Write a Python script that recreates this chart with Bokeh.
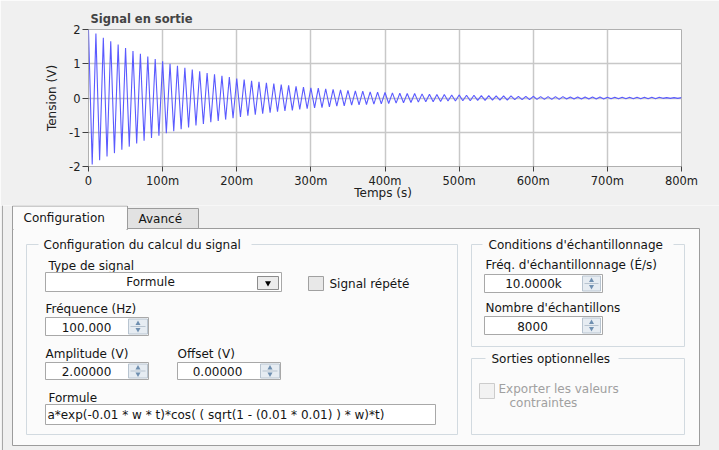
from bokeh.plotting import figure
from bokeh.layouts import column
from bokeh.models import Range1d, FixedTicker, CustomJSTickFormatter
from bokeh.core.properties import value
from bokeh.embed import file_html
from bokeh.resources import INLINE

# ---------------- data ----------------
signal_freq_hz = 100.0          # ten cycles per 100 ms, as shown in the panel
# successive positive / negative extremes of the output signal, one per half cycle (V)
extremes = [
    2.00, -1.94, 1.88, -1.82, 1.76, -1.71, 1.66, -1.61, 1.56, -1.51,
    1.46, -1.42, 1.37, -1.33, 1.29, -1.25, 1.21, -1.17, 1.14, -1.10,
    1.07, -1.03, 1.00, -0.97, 0.94, -0.91, 0.88, -0.86, 0.83, -0.80,
    0.78, -0.76, 0.73, -0.71, 0.69, -0.67, 0.65, -0.63, 0.61, -0.59,
    0.57, -0.55, 0.54, -0.52, 0.50, -0.49, 0.47, -0.46, 0.44, -0.43,
    0.42, -0.40, 0.39, -0.38, 0.37, -0.36, 0.34, -0.33, 0.32, -0.31,
    0.30, -0.29, 0.29, -0.28, 0.27, -0.26, 0.25, -0.24, 0.24, -0.23,
    0.22, -0.21, 0.21, -0.20, 0.20, -0.19, 0.18, -0.18, 0.17, -0.17,
    0.16, -0.16, 0.15, -0.15, 0.14, -0.14, 0.13, -0.13, 0.13, -0.12,
    0.12, -0.11, 0.11, -0.11, 0.10, -0.10, 0.10, -0.09, 0.09, -0.09,
    0.09, -0.08, 0.08, -0.08, 0.08, -0.07, 0.07, -0.07, 0.07, -0.06,
    0.06, -0.06, 0.06, -0.06, 0.06, -0.05, 0.05, -0.05, 0.05, -0.05,
    0.05, -0.04, 0.04, -0.04, 0.04, -0.04, 0.04, -0.04, 0.04, -0.03,
    0.03, -0.03, 0.03, -0.03, 0.03, -0.03, 0.03, -0.03, 0.03, -0.03,
    0.02, -0.02, 0.02, -0.02, 0.02, -0.02, 0.02, -0.02, 0.02, -0.02,
    0.02, -0.02, 0.02, -0.02, 0.02, -0.01, 0.01, -0.01, 0.01, -0.01,
    0.01,
]
times = [j / (2 * signal_freq_hz) for j in range(len(extremes))]

x_ticks = [0, 0.1, 0.2, 0.3, 0.4, 0.5, 0.6, 0.7, 0.8]
y_ticks = [-2, -1, 0, 1, 2]
y_labels = {-2: "-2", -1: "-1", 0: "0", 1: "1", 2: "2"}

FONT = "DejaVu Sans"
BG = "#F0F0F0"

# ---------------- chart ----------------
p1 = figure(width=719, height=205, x_range=Range1d(0, 0.8), y_range=Range1d(-2, 2),
            output_backend="svg", toolbar_location=None,
            min_border_left=88, min_border_right=38, min_border_top=29, min_border_bottom=39)
p1.frame_align = False
p1.background_fill_color = "white"
p1.border_fill_color = BG
p1.outline_line_color = "#B0B0B0"

p1.title.text = "Signal en sortie"
p1.title.text_font = FONT
p1.title.text_font_size = "11.5px"
p1.title.text_font_style = "bold"
p1.title.align = "left"
p1.title.offset = 2
p1.title.standoff = 7

p1.line(times, extremes, line_color="#5A5AFF", line_width=1.1)

p1.xaxis.ticker = FixedTicker(ticks=x_ticks)
p1.xaxis.formatter = CustomJSTickFormatter(
    code="return tick == 0 ? '0' : Math.round(tick * 1000) + 'm';")
p1.yaxis.ticker = FixedTicker(ticks=y_ticks)
p1.yaxis.major_label_overrides = y_labels
p1.xaxis.axis_label = "Temps  (s)"
p1.yaxis.axis_label = "Tension (V)"
for ax in (p1.xaxis, p1.yaxis):
    ax.axis_line_color = None
    ax.major_tick_line_color = "#404040"
    ax.major_tick_in = 0
    ax.major_tick_out = 6
    ax.minor_tick_line_color = None
    ax.major_label_text_font = FONT
    ax.major_label_text_font_size = "11.5px"
    ax.major_label_text_color = "#202020"
    ax.major_label_text_line_height = 1.0
    ax.axis_label_text_font = FONT
    ax.axis_label_text_font_size = "12px"
    ax.axis_label_text_font_style = "normal"
    ax.axis_label_text_color = "#202020"
    ax.axis_label_text_line_height = 1.0
p1.xaxis.major_tick_out = 5
p1.xaxis.major_label_standoff = 2
p1.xaxis.axis_label_standoff = -5
p1.yaxis.major_label_standoff = 2
p1.yaxis.axis_label_standoff = 7
p1.grid.grid_line_color = "#C8C8C8"
p1.grid.grid_line_width = 1.5

# ---------------- configuration panel ----------------
p2 = figure(width=719, height=245, x_range=Range1d(0, 719), y_range=Range1d(450, 205),
            output_backend="svg", toolbar_location=None, min_border=0)
p2.frame_align = False
p2.background_fill_color = BG
p2.border_fill_color = BG
p2.outline_line_color = None
p2.axis.visible = False
p2.grid.visible = False

PANEL = "#FBFBFB"

def box(l, r, t, b, fill, line, width=1):
    p2.quad(left=l, right=r, top=t, bottom=b, fill_color=fill, line_color=line, line_width=width)

def txt(x, y, s, align="left", color="#141414", size="12px"):
    p2.text(x=[x], y=[y], text=[s], text_font=value(FONT), text_font_size=size,
            text_color=color, text_align=align, text_baseline="middle")

def spinner(l, r, t, b):
    box(l, r, t, b, "#E6ECF2", "#B8C4D0")
    mid = (t + b) / 2
    p2.line([l + 2, r - 2], [mid, mid], line_color="#B8C4D0", line_width=1)
    cx = (l + r) / 2
    p2.scatter([cx], [mid - 3], marker="triangle", size=5, fill_color="#6F8FB0", line_color=None)
    p2.scatter([cx], [mid + 3], marker="inverted_triangle", size=5, fill_color="#6F8FB0", line_color=None)

def numeric(l, r, t, b, s, cx, sp):
    box(l, r, t, b, "white", "#A8A8A8")
    spinner(sp[0], sp[1], t + 1.5, b - 1.5)
    txt(cx, (t + b) / 2 + 0.5, s, align="center")

# window edge
p2.line([2, 2], [205, 450], line_color="#A8A8A8", line_width=1)

# tab panel
box(12, 699, 228, 445, PANEL, "#9C9C9C")
box(127, 198, 208, 228, "#E2E2E2", "#9C9C9C")
box(12, 127, 205.5, 229, PANEL, "#9C9C9C")
p2.line([13, 126], [228.5, 228.5], line_color=PANEL, line_width=2)
txt(23, 217, "Configuration")
txt(138, 218.5, "Avancé")

# group boxes
GB = "#D2DAE0"
box(26, 457, 244, 434, None, GB)
box(471, 684, 244, 346, None, GB)
box(471, 684, 358, 434, None, GB)
p2.quad(left=38, right=251, top=237, bottom=251, fill_color=PANEL, line_color=None)
p2.quad(left=482, right=673, top=237, bottom=251, fill_color=PANEL, line_color=None)
p2.quad(left=485, right=618, top=351, bottom=365, fill_color=PANEL, line_color=None)
txt(43, 244, "Configuration du calcul du signal")
txt(488, 244, "Conditions d'échantillonnage")
txt(491, 358, "Sorties optionnelles")

# signal type
txt(48, 265, "Type de signal")
box(45, 281, 272, 291, "white", "#A8A8A8")
txt(150, 281.5, "Formule", align="center")
box(257, 278, 276, 289, "#ECECEC", "#8C8C8C")
p2.scatter([267.5], [282.5], marker="inverted_triangle", size=6, fill_color="black", line_color=None)
box(308, 323, 276, 290, "#E8E8E8", "#A0A0A0")
txt(329, 283, "Signal répété")

# numerics
txt(45, 308, "Fréquence (Hz)")
numeric(45, 148, 317, 335, "100.000", 86, (128, 147))
txt(45, 353, "Amplitude (V)")
numeric(45, 148, 362, 379, "2.00000", 86, (128, 147))
txt(177, 353, "Offset (V)")
numeric(177, 280, 362, 379, "0.00000", 217, (260, 279))

# formula
txt(48, 397, "Formule")
box(45, 435, 404, 424, "white", "#A8A8A8")
txt(47, 414.5, "a*exp(-0.01 * w * t)*cos( ( sqrt(1 - (0.01 * 0.01) ) * w)*t)")

# sampling
txt(485, 264, "Fréq. d'échantillonnage (É/s)")
numeric(484, 602, 274, 292, "10.0000k", 533, (582, 600))
txt(485, 307, "Nombre d'échantillons")
numeric(484, 602, 316, 334, "8000", 532, (582, 600))

# optional outputs (disabled)
box(479, 494, 383, 398, "#F2F2F2", "#CCCCCC")
txt(498, 388, "Exporter les valeurs", color="#A0A0A0")
txt(509, 402, "contraintes", color="#A0A0A0")

layout = column(p1, p2, spacing=0)
open("out.html", "w").write(file_html(layout, INLINE))
